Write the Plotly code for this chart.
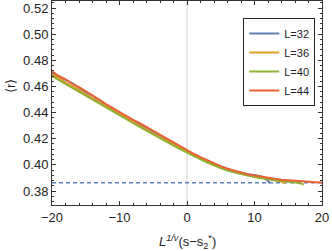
import plotly.graph_objects as go

# ---- data ----
x_l32 = list(range(-20, 12)) + [11.5, 12.3]
r_l32 = [0.4700, 0.4675, 0.4645, 0.4625, 0.4590, 0.4555, 0.4530, 0.4490, 0.4455, 0.4425,
         0.4390, 0.4372, 0.4340, 0.4310, 0.4285, 0.4255, 0.4222, 0.4195, 0.4162, 0.4135,
         0.4102, 0.4082, 0.4055, 0.4030, 0.4008, 0.3990, 0.3968, 0.3952, 0.3940, 0.3928,
         0.3922, 0.3912, 0.3900, 0.3862]

x_l36 = list(range(-20, 15)) + [14.5]
r_l36 = [0.4690, 0.4665, 0.4630, 0.4605, 0.4575, 0.4540, 0.4510, 0.4480, 0.4445, 0.4415,
         0.4385, 0.4355, 0.4325, 0.4298, 0.4270, 0.4240, 0.4212, 0.4183, 0.4155, 0.4127,
         0.4098, 0.4073, 0.4048, 0.4022, 0.4000, 0.3978, 0.3960, 0.3945, 0.3932, 0.3920,
         0.3910, 0.3900, 0.3892, 0.3882, 0.3872, 0.3858]

x_l40 = list(range(-20, 18)) + [17.3]
r_l40 = [0.4680, 0.4650, 0.4620, 0.4590, 0.4560, 0.4530, 0.4500, 0.4470, 0.4435, 0.4405,
         0.4378, 0.4348, 0.4318, 0.4290, 0.4262, 0.4232, 0.4205, 0.4175, 0.4147, 0.4120,
         0.4092, 0.4068, 0.4042, 0.4018, 0.3995, 0.3975, 0.3957, 0.3942, 0.3930, 0.3918,
         0.3908, 0.3898, 0.3890, 0.3883, 0.3877, 0.3872, 0.3866, 0.3856, 0.3848]

x_l44 = list(range(-20, 21))
r_l44 = [0.4715, 0.4680, 0.4655, 0.4620, 0.4595, 0.4565, 0.4530, 0.4500, 0.4465, 0.4435,
         0.4400, 0.4375, 0.4345, 0.4320, 0.4290, 0.4260, 0.4230, 0.4200, 0.4170, 0.4140,
         0.4110, 0.4085, 0.4060, 0.4035, 0.4010, 0.3990, 0.3970, 0.3955, 0.3940, 0.3928,
         0.3918, 0.3908, 0.3900, 0.3893, 0.3887, 0.3882, 0.3878, 0.3874, 0.3871, 0.3868,
         0.3866]

series_names = ["L=32", "L=36", "L=40", "L=44"]
poisson_r = 0.3863
x_ticks = [-20, -10, 0, 10, 20]
y_ticks = [0.38, 0.40, 0.42, 0.44, 0.46, 0.48, 0.50, 0.52]

colors = ["#5E81B5", "#E19C24", "#8FB032", "#EB6235"]
xs = [x_l32, x_l36, x_l40, x_l44]
ys = [r_l32, r_l36, r_l40, r_l44]

fig = go.Figure()
for name, x, y, c in zip(series_names, xs, ys, colors):
    fig.add_trace(go.Scatter(x=x, y=y, mode="lines", name=name,
                             line=dict(color=c, width=2)))

# reference lines
fig.add_shape(type="line", xref="x", yref="paper", x0=0, x1=0, y0=0, y1=1,
              line=dict(color="#d9d9d9", width=1.2), layer="below")
fig.add_shape(type="line", xref="paper", yref="y", x0=0, x1=1, y0=poisson_r, y1=poisson_r,
              line=dict(color="#5E81B5", width=1.5, dash="4px,3px"), layer="below")

font = "Liberation Sans, Arial, sans-serif"
axis_common = dict(
    showgrid=False, zeroline=False, showline=True, linecolor="#333", linewidth=1,
    mirror="ticks", ticks="inside", ticklen=4, tickwidth=1, tickcolor="#333",
    tickfont=dict(family=font, size=13, color="#222"), automargin=False,
)
fig.update_xaxes(range=[-20, 20], tickvals=x_ticks,
                 ticktext=["\u221220", "\u221210", "0", "10", "20"],
                 minor=dict(dtick=2, ticks="inside", ticklen=2, tickcolor="#333"),
                 **axis_common)
fig.update_yaxes(range=[0.3693, 0.5254], tickvals=y_ticks,
                 ticktext=[f"{v:.2f}" for v in y_ticks],
                 minor=dict(dtick=0.004, tick0=0.38, ticks="inside", ticklen=2, tickcolor="#333"),
                 **axis_common)

fig.add_annotation(text="\u27e8r\u27e9", xref="paper", yref="paper", x=0, y=0.583,
                   xshift=-42, xanchor="center", yanchor="middle", textangle=-90,
                   showarrow=False, font=dict(family=font, size=13, color="#222"))
fig.add_annotation(text="<i>L</i><sup><i>1/\u03bd</i></sup>(s\u2212s<sub>2</sub><sup>*</sup>)",
                   xref="x", yref="paper", x=0, y=0, yshift=-37, yanchor="middle",
                   showarrow=False, font=dict(family=font, size=13, color="#222"))

fig.update_layout(
    width=332, height=251,
    margin=dict(l=52, r=10, t=1, b=46),
    plot_bgcolor="white", paper_bgcolor="white",
    showlegend=True,
    legend=dict(x=0.975, y=0.917, xanchor="right", yanchor="top",
                bordercolor="#222", borderwidth=1, bgcolor="white",
                font=dict(family=font, size=11, color="#222"),
                itemwidth=30, tracegroupgap=0),
)

fig.write_html("out.html", config={"staticPlot": True},
               post_script="document.body.style.margin='0';document.body.style.overflow='hidden';")
